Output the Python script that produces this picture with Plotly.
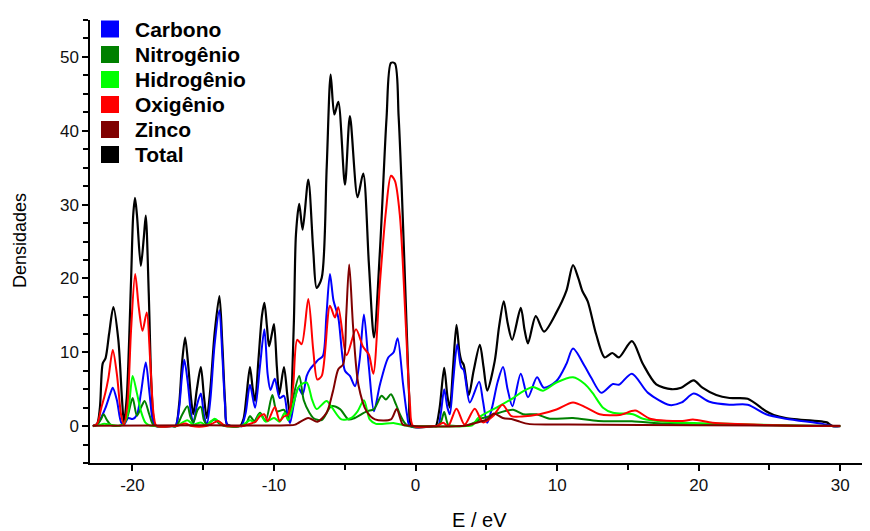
import plotly.graph_objects as go

# ---------------- data ----------------
total_e = [-22.8, -22.5, -22.3, -22.1, -21.9, -21.65, -21.35, -21.0, -20.75, -20.6, -20.4, -20.1, -19.95, -19.82,
           -19.68, -19.41, -19.2, -19.06, -18.85, -18.65, -18.45, -18.3, -17.2,
           -16.95, -16.7, -16.5, -16.28, -16.05, -15.85, -15.7, -15.45, -15.17, -14.95, -14.75, -14.5, -14.2,
           -13.86, -13.65, -13.45, -13.3, -12.4,
           -12.15, -11.95, -11.7, -11.5, -11.34, -11.1, -10.85, -10.68, -10.5, -10.35, -10.15, -10.0, -9.8, -9.63,
           -9.3, -9.05, -8.87, -8.6, -8.45, -8.22, -7.98, -7.58, -7.23, -6.99, -6.63, -6.28, -6.0, -5.74, -5.46,
           -4.99, -4.64, -4.1, -3.7, -3.3, -2.94, -2.52, -2.05, -1.74, -1.46, -1.2, -0.99, -0.64, -0.45, -0.28, 1.3,
           1.43, 1.7, 2.02, 2.25, 2.42, 2.65, 2.89, 3.1, 3.24, 3.4, 3.76, 4.1, 4.54, 4.8, 5.06, 5.59, 5.9, 6.23,
           6.5, 6.82, 7.43, 7.7, 7.94, 8.49, 9.07, 9.95, 10.65, 11.12, 11.5, 11.78, 12.16, 12.76, 13.36, 13.9,
           14.36, 15.28, 16.06, 17.0, 18.06, 18.76, 19.64, 20.26, 21.24, 22.18, 23.46, 24.76, 25.3, 26.16, 28.76,
           29.05, 29.46, 30.0]
total_d = [0, 0.3, 2.5, 8.5, 9.2, 12.5, 16.1, 11.7, 4.0, 0.5, 4.0, 19.7, 28.5, 30.9,
           28.5, 21.7, 25.5, 28.5, 18.0, 5.0, 0.3, 0, 0,
           0, 3.0, 8.5, 12.0, 8.0, 3.5, 1.6, 5.0, 8.0, 4.0, 1.1, 5.0, 12.5,
           17.6, 11.0, 3.0, 0.2, 0,
           1.0, 4.0, 8.0, 5.0, 3.4, 9.0, 15.0, 16.7, 13.5, 10.8, 12.5, 13.8, 8.0, 4.3,
           8.0, 4.0, 1.6, 14.0, 26.0, 30.1, 26.6, 33.4, 23.8, 18.7, 20.1, 35.0, 47.6, 42.2, 43.9,
           32.7, 42.0, 31.0, 34.2, 22.0, 12.0, 23.7, 41.8, 49.2, 49.1, 42.0, 32.7, 13.8, 4.0, 0, 0,
           0, 2.5, 7.9, 4.0, 2.5, 8.0, 13.7, 10.0, 8.8, 8.3, 4.2, 7.5, 11.0, 8.0, 4.8, 8.8, 13.5, 16.9,
           14.0, 11.7, 16.0, 13.0, 11.2, 14.9, 12.8, 15.4, 18.3, 21.8, 20.0, 18.3, 16.9, 12.4, 9.3, 9.9,
           9.3, 11.5, 8.4, 5.65, 5.0, 5.2, 6.2, 5.2, 4.2, 3.8, 3.7, 2.0, 1.5, 1.1, 0.6,
           0.5, 0, 0]

carbono_e = [-22.8, -22.5, -22.2, -21.9, -21.55, -21.39, -21.1, -20.8, -20.6, -20.3, -19.99, -19.69,
             -19.4, -19.06, -18.8, -18.55, -18.35, -17.2,
             -16.95, -16.7, -16.5, -16.34, -16.1, -15.85, -15.7, -15.45, -15.17, -14.95, -14.75, -14.5, -14.2,
             -13.86, -13.65, -13.45, -13.3, -12.4,
             -12.3, -12.0, -11.7, -11.34, -11.0, -10.68, -10.45, -10.25, -9.95, -9.6, -9.3, -9.05, -8.87,
             -8.6, -8.29, -7.98, -7.69, -7.46, -7.1, -6.87, -6.55, -6.3, -6.05, -5.8, -5.46, -4.99, -4.64, -4.28,
             -3.95, -3.65, -3.3, -2.94, -2.52, -1.93, -1.55, -1.27, -0.88, -0.6, -0.4, 1.4,
             1.6, 1.8, 2.02, 2.25, 2.42, 2.65, 2.94, 3.15, 3.24, 3.4, 3.83, 4.49, 4.75, 5.06, 5.4, 5.8,
             6.18, 6.5, 6.84, 7.43, 7.94, 8.58, 9.06, 9.95, 10.65, 11.12, 11.95, 12.42, 13.12, 13.94, 14.36,
             15.28, 16.42, 17.94, 18.8, 19.64, 20.76, 22.16, 23.46, 24.76, 26.16, 28.76, 29.46, 30.0]
carbono_d = [0, 0.2, 1.2, 2.5, 4.5, 5.2, 3.5, 0.5, 0.2, 1.1, 0.95, 1.5,
             4.5, 8.6, 4.5, 0.6, 0, 0,
             0, 2.5, 6.8, 9.0, 6.0, 1.5, 0.4, 2.8, 4.4, 1.5, 0.2, 3.5, 11.0,
             15.7, 9.5, 2.5, 0.2, 0,
             0, 1.8, 5.6, 2.5, 8.0, 13.1, 7.0, 4.9, 6.4, 3.8, 4.1, 1.5, 0.4,
             3.0, 5.2, 4.3, 6.8, 7.7, 8.5, 9.0, 9.5, 15.0, 20.6, 17.0, 14.7, 7.5, 6.8, 5.4,
             9.0, 15.1, 8.0, 2.0, 5.6, 9.3, 10.0, 11.9, 5.6, 1.5, 0, 0,
             0, 2.0, 5.0, 2.5, 1.6, 6.0, 11.1, 8.5, 7.9, 7.6, 3.2, 6.0, 3.5, 0.45, 2.5, 6.0,
             8.0, 5.0, 2.7, 7.1, 3.9, 6.6, 5.2, 6.1, 8.4, 10.5, 8.1, 6.5, 4.5, 5.7, 5.6,
             7.1, 4.5, 2.85, 3.2, 4.4, 3.3, 2.9, 2.9, 1.6, 1.0, 0.3, 0, 0]

nitrogenio_e = [-22.8, -22.5, -22.2, -22.04, -21.8, -21.5, -20.8, -20.4, -19.99, -19.69, -19.4, -19.14,
                -18.8, -18.5, -17.2,
                -16.9, -16.5, -16.12, -15.9, -15.7, -15.4, -15.17, -14.95, -14.75, -14.4, -14.15, -13.9, -13.5,
                -12.4,
                -12.3, -11.95, -11.7, -11.4, -10.99, -10.6, -10.12, -9.8, -9.3, -9.0, -8.7, -8.22, -7.9, -7.5, -7.23,
                -6.64, -5.94, -5.34, -4.74, -4.3, -3.46, -2.94, -2.4, -2.1, -1.74, -1.4, -1.11, -0.8, -0.52, 1.3,
                1.5, 1.8, 2.02, 2.3, 2.6, 3.5, 4.3, 4.6, 5.0, 5.72, 6.89, 7.6, 8.54, 9.48, 11.12, 12.9, 15.28,
                17.6, 20.0, 25.0, 29.46, 30.0]
nitrogenio_d = [0, 0.2, 1.0, 1.6, 0.8, 0.1, 0.1, 1.0, 3.8, 1.4, 2.5, 3.4,
                1.5, 0.1, 0,
                0, 1.5, 2.7, 1.2, 0.5, 2.2, 2.6, 0.8, 0.2, 0.7, 0.9, 0.4, 0,
                0,
                0, 0.4, 1.35, 0.7, 1.8, 0.7, 4.2, 2.0, 2.2, 1.0, 3.5, 6.8, 3.5, 1.8, 1.1,
                0.8, 2.7, 2.3, 0.9, 1.1, 2.0, 2.3, 4.1, 3.6, 4.3, 3.0, 1.6, 0.5, 0, 0,
                0, 0.6, 1.9, 0.2, 0.05, 0.05, 0.6, 1.0, 1.2, 1.7, 2.2, 1.6, 1.6, 1.0, 1.1, 0.7, 0.65,
                0.35, 0.3, 0.1, 0, 0]

hidrogenio_e = [-22.8, -22.4, -22.0, -21.6, -21.0, -20.6, -20.3, -19.99, -19.69, -19.4, -19.1, -18.8, -18.5,
                -17.2,
                -16.9, -16.12, -15.7, -15.17, -14.8, -14.5, -14.2, -13.7, -13.4, -12.4,
                -12.3, -11.7, -11.35, -10.99, -10.6, -10.0, -9.6, -9.25, -9.0, -8.7, -8.22, -7.7, -7.3, -6.99,
                -6.29, -5.9, -5.24, -4.54, -4.1, -3.65, -3.24, -2.8, -1.5, -0.8, -0.4, 3.6,
                4.0, 4.42, 5.0, 5.71, 6.89, 7.59, 8.3, 9.0, 9.95, 11.12, 11.95, 12.5, 13.24, 13.94, 15.35, 16.06,
                17.66, 19.96, 22.0, 26.0, 29.46, 30.0]
hidrogenio_d = [0, 0.1, 0.3, 0.2, 0.05, 0.3, 2.0, 6.8, 4.5, 2.0, 0.5, 0.1, 0,
                0,
                0, 0.8, 0.2, 0.5, 0.1, 0.5, 1.0, 0.3, 0, 0,
                0, 0.8, 0.5, 1.6, 0.6, 1.1, 0.6, 1.8, 0.8, 2.5, 5.4, 5.9, 3.5, 2.3,
                3.4, 2.5, 0.9, 1.1, 2.0, 3.5, 0.9, 0.3, 0.4, 0.1, 0, 0,
                0.1, 1.1, 1.8, 2.5, 3.8, 4.7, 5.3, 4.8, 5.9, 6.6, 5.7, 4.5, 2.5, 1.8, 1.6, 1.0,
                0.6, 0.4, 0.3, 0.1, 0, 0]

oxigenio_e = [-22.8, -22.5, -22.2, -21.94, -21.7, -21.39, -21.1, -20.8, -20.6, -20.35, -20.1, -19.81, -19.55,
              -19.29, -18.99, -18.75, -18.5, -18.3, -17.2,
              -16.9, -16.28, -15.8, -14.8, -14.4, -13.95, -13.6, -13.4, -12.4,
              -12.2, -11.7, -11.3, -10.99, -10.69, -10.45, -9.94, -9.6, -9.3, -9.05, -8.85, -8.64, -8.36, -8.05,
              -7.58, -7.23, -6.94, -6.63, -6.05, -5.7, -5.46, -4.87, -4.21, -3.7, -3.3, -2.99, -2.52, -2.1,
              -1.74, -1.46, -1.11, -0.68, -0.4, -0.17, 1.3,
              1.5, 1.95, 2.3, 2.89, 3.46, 4.18, 4.76, 5.47, 6.14, 6.77, 7.5, 8.76, 9.95, 11.12, 12.06, 13.0,
              14.42, 15.52, 16.56, 18.86, 19.59, 20.96, 22.2, 29.46, 30.0]
oxigenio_d = [0, 0.3, 2.5, 4.3, 6.5, 10.3, 7.0, 1.5, 0.2, 3.0, 13.0, 20.6, 16.0,
              12.9, 15.4, 9.0, 1.5, 0, 0,
              0, 0.35, 0, 0, 0.3, 0.7, 0.2, 0, 0,
              0, 0.3, 0.6, 1.35, 1.6, 0.7, 2.6, 0.7, 1.3, 1.5, 2.5, 5.6, 11.7, 11.1,
              17.2, 10.3, 6.3, 6.8, 16.3, 14.7, 16.1, 9.6, 13.1, 10.7, 9.7, 7.1, 19.4, 29.0,
              33.9, 33.2, 28.5, 13.3, 3.0, 0, 0,
              0, 0.45, 0, 2.35, 0.2, 2.35, 0.5, 1.35, 2.9, 1.35, 1.3, 1.6, 2.25, 3.2, 2.5, 1.6,
              1.5, 2.1, 1.0, 0.7, 0.9, 0.45, 0.3, 0, 0]

zinco_e = [-22.8, -15.0, -9.0, -8.5, -7.58, -6.94, -6.29, -5.84, -5.46, -5.11, -4.9, -4.69, -4.41, -4.04,
           -3.46, -2.87, -1.74, -1.34, -0.9, -0.5, 3.5,
           4.3, 5.06, 5.52, 6.16, 6.89, 7.36, 7.96, 10.8, 20.0, 30.0]
zinco_d = [0.05, 0.1, 0.1, 0.2, 1.1, 0.6, 1.8, 4.7, 7.7, 8.4, 15.0, 21.9, 13.3, 5.6,
           2.0, 0.9, 0.9, 2.3, 0.2, 0.05, 0.05,
           0.45, 0.9, 1.7, 1.1, 0.9, 0.6, 0.3, 0.2, 0.1, 0.05]

series_names = ["Carbono", "Nitrogênio", "Hidrogênio", "Oxigênio", "Zinco", "Total"]
series_colors = ["#0000FF", "#008000", "#00FF00", "#FF0000", "#800000", "#000000"]

x_ticks = [-20, -10, 0, 10, 20, 30]
y_ticks = [0, 10, 20, 30, 40, 50]
x_title = "E / eV"
y_title = "Densidades"

# ---------------- figure ----------------
data_map = {
    "Carbono": (carbono_e, carbono_d),
    "Nitrogênio": (nitrogenio_e, nitrogenio_d),
    "Hidrogênio": (hidrogenio_e, hidrogenio_d),
    "Oxigênio": (oxigenio_e, oxigenio_d),
    "Zinco": (zinco_e, zinco_d),
    "Total": (total_e, total_d),
}

OFF = 8  # default page body margin of the written html page
W, H = 870 - OFF, 531 - OFF
ML, MR, MT, MB = 90 - OFF, 0, 20 - OFF, 68
PW, PH = W - ML - MR, H - MT - MB


def px_x(p):  # page pixel -> paper x
    return (p - OFF - ML) / PW


def px_y(p):  # page pixel -> paper y
    return (H - MB - (p - OFF)) / PH


fig = go.Figure()
draw_order = ["Total", "Carbono", "Nitrogênio", "Hidrogênio", "Oxigênio", "Zinco"]
for name in draw_order:
    col = series_colors[series_names.index(name)]
    xs, ys = data_map[name]
    fig.add_trace(go.Scatter(
        x=xs, y=ys, mode="lines", name=name, showlegend=False,
        line=dict(color=col, width=2.2 if name == "Total" else 2, shape="spline", smoothing=0.8),
        hoverinfo="x+y+name"))

FONT = "Arial, Liberation Sans, sans-serif"

# legend drawn as square swatches + bold labels (matches the reference layout)
shapes = []
annotations = []
row_centers = [29, 54.5, 79.5, 104.5, 129.5, 154.5]
for name, col, cy in zip(series_names, series_colors, row_centers):
    shapes.append(dict(type="rect", xref="paper", yref="paper",
                       x0=px_x(101), x1=px_x(119), y0=px_y(cy + 8.5), y1=px_y(cy - 8.5),
                       fillcolor=col, line=dict(width=0)))
    annotations.append(dict(text=f"<b>{name}</b>", xref="paper", yref="paper",
                            x=px_x(133), y=px_y(cy), xanchor="left", yanchor="middle",
                            showarrow=False, font=dict(family=FONT, size=21, color="#000")))

annotations.append(dict(text=x_title, xref="paper", yref="paper", x=px_x(479), y=px_y(520),
                        xanchor="center", yanchor="middle", showarrow=False,
                        font=dict(family=FONT, size=20, color="#000")))
annotations.append(dict(text=y_title, xref="paper", yref="paper", x=px_x(20), y=px_y(241),
                        xanchor="center", yanchor="middle", textangle=-90, showarrow=False,
                        font=dict(family=FONT, size=18, color="#000")))

axis_font = dict(family=FONT, size=17, color="#111")
fig.update_layout(
    template="none",
    width=W, height=H,
    margin=dict(l=ML, r=MR, t=MT, b=MB),
    paper_bgcolor="white", plot_bgcolor="white",
    font=dict(family=FONT, color="#000"),
    showlegend=False,
    shapes=shapes,
    annotations=annotations,
    xaxis=dict(range=[-23, 32.1], tickmode="array", tickvals=x_ticks, automargin=False,
               ticktext=[str(v) for v in x_ticks], showgrid=False, zeroline=False,
               showline=True, linecolor="#000", linewidth=1.5, ticks="outside", ticklen=6,
               tickwidth=1.5, tickcolor="#000", tickfont=axis_font,
               minor=dict(dtick=5, tick0=0, ticks="outside", ticklen=5, tickwidth=1.5, tickcolor="#000",
                          showgrid=False)),
    yaxis=dict(range=[-5, 55], tickmode="array", tickvals=y_ticks, automargin=False,
               ticktext=[str(v) for v in y_ticks], showgrid=False, zeroline=False,
               showline=True, linecolor="#000", linewidth=1.5, ticks="outside", ticklen=6,
               tickwidth=1.5, tickcolor="#000", tickfont=axis_font,
               minor=dict(dtick=2.5, tick0=0, ticks="outside", ticklen=5, tickwidth=1.5, tickcolor="#000",
                          showgrid=False)),
)

fig.write_html("out.html")
